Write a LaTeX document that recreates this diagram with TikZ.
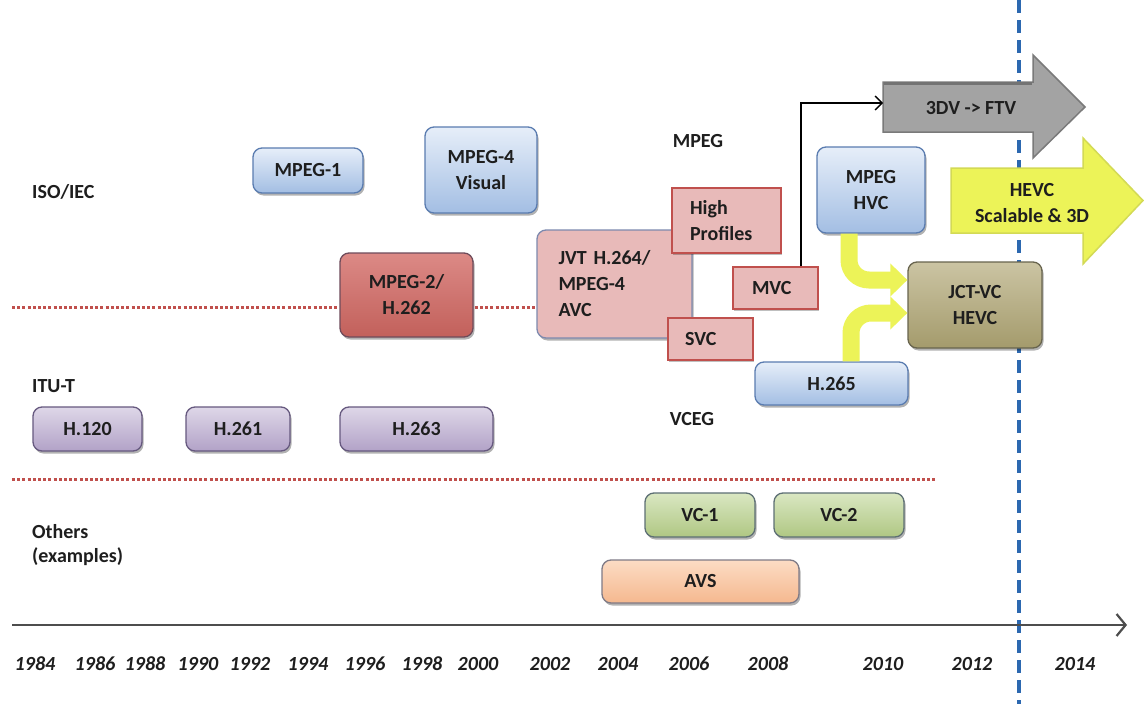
\documentclass[tikz,border=0pt]{standalone}
\usepackage{fontspec}
\setmainfont{Carlito}
\usetikzlibrary{arrows.meta,shadows}

\definecolor{txt}{HTML}{1E1E1E}
\definecolor{bluetop}{HTML}{E6EEF9}
\definecolor{bluebot}{HTML}{A3BEE3}
\definecolor{blueedge}{HTML}{5A7CB0}
\definecolor{redtop}{HTML}{DC8A86}
\definecolor{redbot}{HTML}{C2605B}
\definecolor{rededge}{HTML}{6E4B5A}
\definecolor{pinkfill}{HTML}{E8BAB9}
\definecolor{pinkedge}{HTML}{C0504D}
\definecolor{jvtedge}{HTML}{7D89AE}
\definecolor{purtop}{HTML}{DED7E8}
\definecolor{purbot}{HTML}{B2A2C7}
\definecolor{puredge}{HTML}{66597F}
\definecolor{grntop}{HTML}{DAE7C2}
\definecolor{grnbot}{HTML}{AFC783}
\definecolor{grnedge}{HTML}{5D6F74}
\definecolor{avstop}{HTML}{FCDCC4}
\definecolor{avsbot}{HTML}{F5B88F}
\definecolor{avsedge}{HTML}{7F7A86}
\definecolor{jcttop}{HTML}{CBC4A3}
\definecolor{jctbot}{HTML}{A49B6C}
\definecolor{jctedge}{HTML}{68644E}
\definecolor{ylw}{HTML}{ECF358}
\definecolor{ylwedge}{HTML}{D3DA55}
\definecolor{greyfill}{HTML}{A3A3A3}
\definecolor{greyedge}{HTML}{7A7A7A}
\definecolor{dotred}{HTML}{C0504D}
\definecolor{nowblue}{HTML}{2C68B0}
\definecolor{axisgrey}{HTML}{4D4D4D}

\tikzset{
  base/.style={font=\fontsize{20}{26}\selectfont\bfseries, text=txt, inner sep=0pt, align=center},
  card/.style={base, rounded corners=9pt, line width=1.3pt,
    drop shadow={shadow xshift=1.5pt, shadow yshift=-2.5pt, opacity=0.3, fill=black}},
  bluecard/.style={card, top color=bluetop, bottom color=bluebot, draw=blueedge},
  redcard/.style={card, top color=redtop, bottom color=redbot, draw=rededge},
  purplecard/.style={card, top color=purtop, bottom color=purbot, draw=puredge},
  greencard/.style={card, top color=grntop, bottom color=grnbot, draw=grnedge},
  avscard/.style={card, top color=avstop, bottom color=avsbot, draw=avsedge},
  jctcard/.style={card, top color=jcttop, bottom color=jctbot, draw=jctedge},
  jvtcard/.style={card, fill=pinkfill, draw=jvtedge},
  profile/.style={base, fill=pinkfill, draw=pinkedge, line width=1.2pt,
    drop shadow={shadow xshift=1pt, shadow yshift=-1.5pt, opacity=0.25, fill=black}},
  lbl/.style={base, anchor=base west},
  yearlbl/.style={font=\fontsize{20}{22}\selectfont\bfseries\itshape, text=txt, inner sep=0pt, anchor=base},
  divider/.style={draw=dotred, line width=3pt, dash pattern=on 3pt off 2.2pt},
  bent/.style={draw=ylw, line width=17pt, rounded corners=20pt, -{Triangle[width=32pt,length=17pt]}},
  bigarrow/.style={line width=1.5pt, line join=miter},
}

\begin{document}
\begin{tikzpicture}[x=1pt,y=-1pt]
\useasboundingbox (0,0) rectangle (1144,704);
\fill[white] (0,0) rectangle (1144,704);

% "today" marker
\coordinate (nowtop) at (1019,0);
\coordinate (nowbot) at (1019,704);
\draw[draw=nowblue, line width=3.2pt, dash pattern=on 13pt off 7pt] (nowtop) -- (nowbot);

% band dividers
\coordinate (d1a) at (12,307);
\coordinate (d1b) at (540,307);
\coordinate (d2a) at (12,479);
\coordinate (d2b) at (935,479);
\draw[divider] (d1a) -- (d1b);
\draw[divider] (d2a) -- (d2b);

% band labels
\node[lbl] (iso) at (32,198) {ISO/IEC};
\node[lbl] (itu) at (32,392) {ITU-T};
\node[lbl] (others) at (32,538) {Others};
\node[lbl] (examples) at (32,562) {(examples)};
\node[base, anchor=base] (mpeglbl) at (698,147) {MPEG};
\node[base, anchor=base] (vceglbl) at (692,425) {VCEG};

% ISO/IEC standards
\node[bluecard, minimum width=110pt, minimum height=45pt] (mpeg1) at (308,170.5) {MPEG-1};
\node[bluecard, minimum width=112pt, minimum height=86pt] (mpeg4) at (481,170) {MPEG-4\\Visual};
\node[redcard, minimum width=133pt, minimum height=84pt] (mpeg2) at (406.5,295) {MPEG-2/\\H.262};

% H.264 family
\node[jvtcard, minimum width=155pt, minimum height=108pt, text width=112pt, align=left] (jvt) at (614.5,284) {JVT H.264/\\MPEG-4\\AVC};
\node[profile, minimum width=109pt, minimum height=65pt, text width=73pt, align=left] (high) at (726.5,220.5) {High\\Profiles};
\node[profile, minimum width=85pt, minimum height=42pt, text width=51pt, align=left] (svc) at (710.5,339) {SVC};
\node[profile, minimum width=85pt, minimum height=42pt, text width=47pt, align=left] (mvc) at (775.5,288) {MVC};

% HEVC
\node[bluecard, minimum width=108pt, minimum height=86pt] (hvc) at (871,190) {MPEG\\HVC};
\node[bluecard, minimum width=153pt, minimum height=43pt] (h265) at (831.5,383.5) {H.265};

% ITU-T standards
\node[purplecard, minimum width=109pt, minimum height=44pt] (h120) at (87.5,429) {H.120};
\node[purplecard, minimum width=104pt, minimum height=44pt] (h261) at (238,429) {H.261};
\node[purplecard, minimum width=153pt, minimum height=44pt] (h263) at (416.5,429) {H.263};

% other codecs
\node[greencard, minimum width=110pt, minimum height=44pt] (vc1) at (700,515) {VC-1};
\node[greencard, minimum width=130pt, minimum height=44pt] (vc2) at (839,515) {VC-2};
\node[avscard, minimum width=197pt, minimum height=43pt] (avs) at (700.5,581.5) {AVS};

% future work arrows
\fill[greyfill, draw=greyedge, bigarrow] (883,82) -- (1033,82) -- (1033,55) -- (1085,107) -- (1033,158) -- (1033,132) -- (883,132) -- cycle;
\draw[draw=black!55, line width=2.5pt] (884,83.5) -- (1032,83.5);
\coordinate (ftvtail) at (883,103);
\node[base] (ftv) at (971,108) {3DV -> FTV};

\fill[ylw, draw=ylwedge, bigarrow] (951,168) -- (1083,168) -- (1083,138) -- (1143,200.5) -- (1083,264) -- (1083,233) -- (951,233) -- cycle;
\node[base] (hevcext) at (1032,203.5) {HEVC\\Scalable \& 3D};

% joint team
\node[jctcard, minimum width=134pt, minimum height=86pt] (jct) at (975,305) {JCT-VC\\HEVC};

% connectors
\draw[bent] ([xshift=-22pt]hvc.south) |- ([yshift=25pt]jct.west);
\draw[bent] ([xshift=19.5pt]h265.north) |- ([yshift=-8pt]jct.west);
\draw[black, line width=1.3pt, -{Straight Barb[length=7pt,width=14pt]}] ([xshift=25.5pt]mvc.north) |- (ftvtail);

% time axis
\coordinate (axstart) at (12,625);
\coordinate (axend) at (1127,625);
\draw[axisgrey, line width=2.2pt, -{Straight Barb[length=9pt,width=22pt]}] (axstart) -- (axend);

\foreach \yr/\xp in {1984/35,1986/95,1988/145,1990/198,1992/250,1994/308,1996/365,1998/422,2000/478,2002/550,2004/618,2006/689,2008/768,2010/883,2012/972,2014/1075}
  \node[yearlbl] (y\yr) at (\xp,670) {\yr};
\end{tikzpicture}
\end{document}
